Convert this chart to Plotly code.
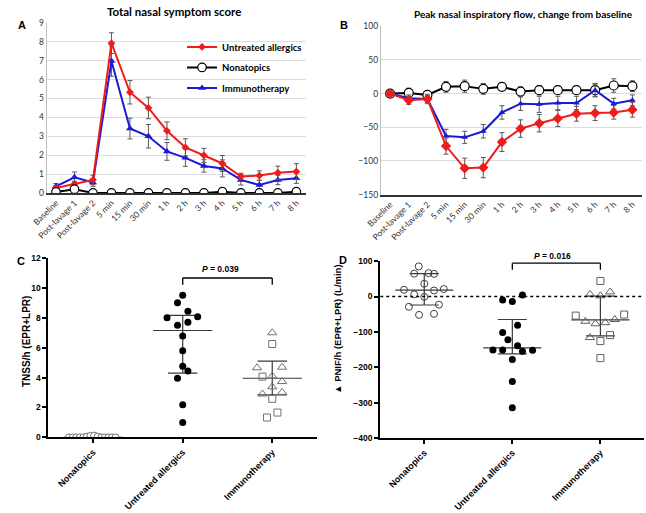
import plotly.graph_objects as go

W, H = 646, 513

# ---------------- data ----------------
time_labels = ["Baseline", "Post-lavage 1", "Post-lavage 2", "5 min", "15 min", "30 min",
               "1 h", "2 h", "3 h", "4 h", "5 h", "6 h", "7 h", "8 h"]

tnss_untreated = [0.26, 0.47, 0.69, 7.93, 5.33, 4.5, 3.29, 2.41, 1.99, 1.56, 0.87, 0.92, 1.07, 1.13]
tnss_untreated_err = [0.1, 0.15, 0.25, 0.55, 0.62, 0.57, 0.47, 0.46, 0.37, 0.42, 0.17, 0.25, 0.35, 0.42]
tnss_nonatopic = [0.05, 0.2, 0, 0, 0, 0, 0, 0, 0, 0.07, 0, 0, 0, 0.07]
tnss_immuno = [0.35, 0.83, 0.55, 6.98, 3.41, 3.0, 2.2, 1.86, 1.43, 1.3, 0.69, 0.42, 0.69, 0.78]
tnss_immuno_err = [0.15, 0.28, 0.2, 0.8, 0.55, 0.62, 0.47, 0.45, 0.33, 0.45, 0.27, 0.25, 0.25, 0.27]

pnif_untreated = [0, -10, -8, -78, -111, -110, -72, -52, -44, -37, -30, -29, -28, -24]
pnif_untreated_err = [0, 6, 7, 12, 15, 15, 14, 13, 13, 12, 11, 11, 10, 11]
pnif_nonatopic = [0, 1, -2, 10, 11, 7, 10, 3, 5, 5, 5, 5, 12, 11]
pnif_nonatopic_err = [0, 7, 5, 8, 9, 8, 3, 7, 7, 6, 6, 10, 10, 8]
pnif_immuno = [0, -7, -8, -63, -65, -56, -28, -15, -16, -14, -14, 5, -15, -10]
pnif_immuno_err = [0, 5, 5, 10, 9, 10, 10, 10, 12, 10, 10, 9, 8, 8]

groups = ["Nonatopics", "Untreated allergics", "Immunotherapy"]

# panel C: TNSS/h
c_non_vals = [0, 0, 0, 0, 0, 0.05, 0.1, 0.12, 0.05, 0, 0, 0, 0, 0]
c_non_jit = [-0.27, -0.23, -0.19, -0.15, -0.11, -0.07, -0.03, 0.01, 0.05, 0.09, 0.13, 0.17, 0.21, 0.25]
c_unt_vals = [9.5, 9.0, 8.43, 8.0, 8.06, 7.49, 7.7, 6.77, 5.79, 4.76, 4.43, 3.95, 2.18, 1.0]
c_unt_jit = [0, -0.058, 0.058, -0.175, 0.167, -0.058, 0.058, 0, 0, 0, 0.058, -0.058, 0, 0]
c_imm_tri_vals = [6.99, 4.65, 4.69, 4.1, 3.38, 3.73, 2.9, 3.01]
c_imm_tri_jit = [0, -0.17, 0.11, 0, 0, 0.11, -0.11, 0.11]
c_imm_sq_vals = [6.24, 4.06, 2.58, 1.66, 1.33]
c_imm_sq_jit = [0, -0.109, 0, 0.058, -0.058]
c_median = [0, 7.14, 3.95]
c_q1 = [0, 4.3, 2.84]
c_q3 = [0, 8.15, 5.09]

# panel D: PNIF/h
d_non_vals = [85, 64.5, 66, 64, 36, 19, 17, 21, 6, -1, -29, -23, -52, -49]
d_non_jit = [-0.063, -0.114, 0.048, 0.111, 0, -0.23, 0.111, 0.222, -0.114, 0, -0.174, 0.167, -0.059, 0.111]
d_unt_vals = [-10, -14, 4, -81, -102, -122, -139, -151, -151, -155, -152, -178, -240, -314]
d_unt_jit = [-0.11, 0, 0.115, 0.06, -0.11, -0.05, 0.06, -0.22, -0.11, 0.115, 0.23, 0, 0, 0]
d_imm_sq_vals = [44, -54, -51, -109, -126, -174]
d_imm_sq_jit = [0, -0.28, 0.27, 0.11, 0, 0]
d_imm_tri_vals = [6, 2, 13, -70, -77, -74, -65, -116]
d_imm_tri_jit = [-0.118, 0, 0.11, -0.17, -0.056, 0.056, 0.163, -0.118]
d_median = [18, -145, -66]
d_q1 = [-24, -162, -111]
d_q3 = [64.5, -65, 1]

c_p_text = "<i>P</i> = 0.039"
d_p_text = "<i>P</i> = 0.016"

# ---------------- helpers ----------------
def px(x):
    return x / W

def py(y):
    return 1 - y / H

RED = "#ee1c1c"
BLUE = "#1a1ad6"
ERR = "#595959"
CAL = "Lato, 'Open Sans', sans-serif"
ARI = "'Liberation Sans', Arial, sans-serif"

fig = go.Figure()

# ---------------- Panel A ----------------
fig.add_trace(go.Scatter(x=time_labels, y=tnss_immuno, mode="lines+markers", name="<b>Immunotherapy</b>",
                         line=dict(color=BLUE, width=2), legendrank=3, legendgroup="g3",
                         marker=dict(symbol="triangle-up", size=7, color=BLUE),
                         error_y=dict(type="data", array=tnss_immuno_err, color=ERR, thickness=1, width=2.5),
                         xaxis="x", yaxis="y"))
fig.add_trace(go.Scatter(x=time_labels, y=tnss_untreated, mode="lines+markers", name="<b>Untreated allergics</b>",
                         line=dict(color=RED, width=2), legendrank=1, legendgroup="g1",
                         marker=dict(symbol="diamond", size=6, color=RED),
                         error_y=dict(type="data", array=tnss_untreated_err, color=ERR, thickness=1, width=2.5),
                         xaxis="x", yaxis="y"))
fig.add_trace(go.Scatter(x=time_labels, y=tnss_nonatopic, mode="lines+markers", name="<b>Nonatopics</b>",
                         line=dict(color="black", width=2), legendrank=2, legendgroup="g2",
                         marker=dict(symbol="circle", size=8.5, color="white", line=dict(color="black", width=1.2)),
                         xaxis="x", yaxis="y"))

# ---------------- Panel B ----------------
fig.add_trace(go.Scatter(x=time_labels, y=pnif_nonatopic, mode="lines+markers", showlegend=False,
                         line=dict(color="black", width=2),
                         marker=dict(symbol="circle", size=9, color="white", line=dict(color="black", width=1.2)),
                         error_y=dict(type="data", array=pnif_nonatopic_err, color=ERR, thickness=1, width=2.5),
                         xaxis="x2", yaxis="y2"))
fig.add_trace(go.Scatter(x=time_labels, y=pnif_immuno, mode="lines+markers", showlegend=False,
                         line=dict(color=BLUE, width=2),
                         marker=dict(symbol="triangle-up", size=6, color=BLUE),
                         error_y=dict(type="data", array=pnif_immuno_err, color=ERR, thickness=1, width=2.5),
                         xaxis="x2", yaxis="y2"))
fig.add_trace(go.Scatter(x=time_labels, y=pnif_untreated, mode="lines+markers", showlegend=False,
                         line=dict(color=RED, width=2),
                         marker=dict(symbol="diamond", size=8, color=RED),
                         error_y=dict(type="data", array=pnif_untreated_err, color=ERR, thickness=1, width=2.5),
                         xaxis="x2", yaxis="y2"))

# ---------------- Panel C / D summary lines ----------------
def summary_trace(med, q1, q3, xa, ya):
    xs, ys = [], []
    for i in range(3):
        xs += [i - 0.33, i + 0.33, None, i - 0.165, i + 0.165, None, i - 0.165, i + 0.165, None, i, i, None]
        ys += [med[i], med[i], None, q1[i], q1[i], None, q3[i], q3[i], None, q1[i], q3[i], None]
    return go.Scatter(x=xs, y=ys, mode="lines", line=dict(color="#3a3a3a", width=1.2),
                      showlegend=False, xaxis=xa, yaxis=ya, hoverinfo="skip")

def jit(i, j):
    return [i + v for v in j]

# C
fig.add_trace(summary_trace(c_median, c_q1, c_q3, "x3", "y3"))
fig.add_trace(go.Scatter(x=jit(0, c_non_jit), y=c_non_vals, mode="markers", showlegend=False,
                         marker=dict(symbol="circle", size=7, color="white", line=dict(color="#707070", width=1)),
                         xaxis="x3", yaxis="y3"))
fig.add_trace(go.Scatter(x=jit(1, c_unt_jit), y=c_unt_vals, mode="markers", showlegend=False,
                         marker=dict(symbol="circle", size=7, color="black"),
                         xaxis="x3", yaxis="y3"))
fig.add_trace(go.Scatter(x=jit(2, c_imm_tri_jit), y=c_imm_tri_vals, mode="markers", showlegend=False,
                         marker=dict(symbol="triangle-up-open", size=8, color="#707070", line=dict(width=1)),
                         xaxis="x3", yaxis="y3"))
fig.add_trace(go.Scatter(x=jit(2, c_imm_sq_jit), y=c_imm_sq_vals, mode="markers", showlegend=False,
                         marker=dict(symbol="square-open", size=7, color="#707070", line=dict(width=1)),
                         xaxis="x3", yaxis="y3"))

# D
fig.add_trace(summary_trace(d_median, d_q1, d_q3, "x4", "y4"))
fig.add_trace(go.Scatter(x=jit(0, d_non_jit), y=d_non_vals, mode="markers", showlegend=False,
                         marker=dict(symbol="circle-open", size=7, color="#404040", line=dict(width=1)),
                         xaxis="x4", yaxis="y4"))
fig.add_trace(go.Scatter(x=jit(1, d_unt_jit), y=d_unt_vals, mode="markers", showlegend=False,
                         marker=dict(symbol="circle", size=7, color="black"),
                         xaxis="x4", yaxis="y4"))
fig.add_trace(go.Scatter(x=jit(2, d_imm_tri_jit), y=d_imm_tri_vals, mode="markers", showlegend=False,
                         marker=dict(symbol="triangle-up-open", size=8, color="#606060", line=dict(width=1)),
                         xaxis="x4", yaxis="y4"))
fig.add_trace(go.Scatter(x=jit(2, d_imm_sq_jit), y=d_imm_sq_vals, mode="markers", showlegend=False,
                         marker=dict(symbol="square-open", size=7, color="#606060", line=dict(width=1)),
                         xaxis="x4", yaxis="y4"))

# ---------------- axes ----------------
xl_common = dict(type="category", range=[-0.5, 13.5], showgrid=False, tickangle=-45,
                 tickfont=dict(family=CAL, size=8.5, color="#333"), ticks="", showline=True,
                 linecolor="#333", linewidth=1.5, zeroline=False)
yl_common = dict(showgrid=True, gridcolor="#dcdcdc", gridwidth=1, showline=True, linecolor="#bfbfbf",
                 linewidth=1, ticks="", zeroline=False, tickfont=dict(family=CAL, size=8.5, color="#333"))

gp_x = dict(range=[-0.5, 2.5], tickvals=[0, 1, 2], ticktext=groups, tickangle=-45,
            tickfont=dict(family=ARI, size=9, color="black", weight="bold"), showgrid=False,
            zeroline=False, showline=True, linecolor="black", linewidth=2, ticks="outside",
            ticklen=4, tickwidth=1.5, tickcolor="black")
gp_y = dict(showgrid=False, zeroline=False, showline=True, linecolor="black", linewidth=2,
            ticks="outside", ticklen=4, tickwidth=1.5, tickcolor="black",
            tickfont=dict(family=ARI, size=8.5, color="black", weight="bold"))

fig.update_layout(
    width=W, height=H, margin=dict(l=0, r=0, t=0, b=0),
    paper_bgcolor="white", plot_bgcolor="white",
    xaxis=dict(domain=[px(32.5), px(297.5)], anchor="y", **xl_common),
    yaxis=dict(domain=[py(191.7), py(18.3)], anchor="x", range=[0, 9], dtick=1, **yl_common),
    xaxis2=dict(domain=[px(374.5), px(641.6)], anchor="y2", **xl_common),
    yaxis2=dict(domain=[py(193.3), py(21.7)], anchor="x2", range=[-150, 100], dtick=50, **yl_common),
    xaxis3=dict(domain=[px(34.2), px(309.2)], anchor="y3", **gp_x),
    yaxis3=dict(domain=[py(441), py(257.8)], anchor="x3", range=[0, 12], dtick=2, **gp_y),
    xaxis4=dict(domain=[px(373.9), px(644.4)], anchor="y4", **gp_x),
    yaxis4=dict(domain=[py(441.7), py(261.2)], anchor="x4", range=[-400, 100], dtick=100, **gp_y),
    legend=dict(x=px(171), y=py(28), xanchor="left", yanchor="top", bgcolor="rgba(0,0,0,0)",
                font=dict(family=CAL, size=9.5, color="black"), traceorder="grouped",
                tracegroupgap=1.5, itemwidth=30),
    showlegend=True,
)

# ---------------- shapes ----------------
shapes = []
# D dotted zero line
shapes.append(dict(type="line", xref="x4", yref="y4", x0=-0.5, x1=2.5, y0=0, y1=0,
                   line=dict(color="black", width=1.3, dash="dot")))
# C bracket
shapes.append(dict(type="line", xref="x3", yref="y3", x0=1, x1=2, y0=10.65, y1=10.65, line=dict(color="black", width=1.3)))
shapes.append(dict(type="line", xref="x3", yref="y3", x0=1, x1=1, y0=10.65, y1=10.2, line=dict(color="black", width=1.3)))
shapes.append(dict(type="line", xref="x3", yref="y3", x0=2, x1=2, y0=10.65, y1=10.2, line=dict(color="black", width=1.3)))
# D bracket (above axis top, paper coords)
shapes.append(dict(type="line", xref="x4", yref="paper", x0=1, x1=2, y0=py(263.3), y1=py(263.3), line=dict(color="black", width=1.3)))
shapes.append(dict(type="line", xref="x4", yref="paper", x0=1, x1=1, y0=py(263.3), y1=py(270), line=dict(color="black", width=1.3)))
shapes.append(dict(type="line", xref="x4", yref="paper", x0=2, x1=2, y0=py(263.3), y1=py(270), line=dict(color="black", width=1.3)))
fig.update_layout(shapes=shapes)

# ---------------- annotations ----------------
ann = []
def txt(x, y, s, size, family=CAL, color="black", xanchor="center", angle=0):
    ann.append(dict(x=px(x), y=py(y), xref="paper", yref="paper", text=s, showarrow=False,
                    font=dict(family=family, size=size, color=color), xanchor=xanchor,
                    yanchor="middle", textangle=angle))

txt(163, 7, "<b>Total nasal symptom score</b>", 11.5)
txt(521, 9, "<b>Peak nasal inspiratory flow, change from baseline</b>", 10)
txt(7, 20, "<b>A</b>", 11, ARI)
txt(337, 20, "<b>B</b>", 11, ARI)
txt(6, 261, "<b>C</b>", 11, ARI)
txt(336, 260, "<b>D</b>", 11, ARI)
txt(210, 269, "<b>" + c_p_text + "</b>", 8.5, ARI)
txt(550, 256, "<b>" + d_p_text + "</b>", 8.5, ARI)
txt(12, 343, "<b>TNSS/h (EPR+LPR)</b>", 10, ARI, angle=-90)
txt(330, 331, "<b>▲ PNIF/h (EPR+LPR) (L/min)</b>", 9.5, ARI, angle=-90)
fig.update_layout(annotations=ann)

fig.write_html("out.html", config={"displayModeBar": False},
               post_script="document.body.style.margin='0';")
